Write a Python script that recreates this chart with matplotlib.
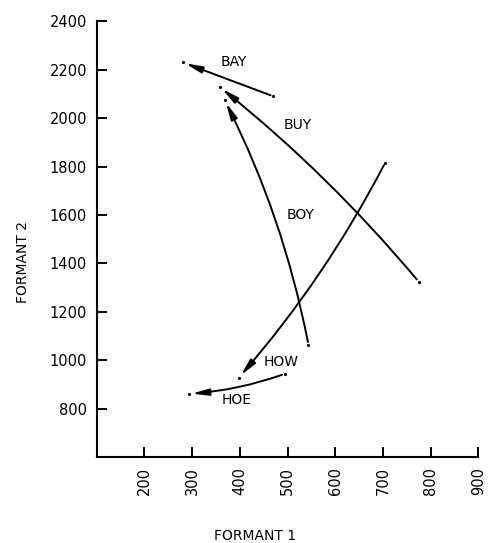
import matplotlib
matplotlib.use("Agg")
import matplotlib.pyplot as plt

# vowel glide trajectories, formant 1 vs formant 2 (Hz)
words = ["BAY", "BUY", "BOY", "HOW", "HOE"]
f1_start = [470, 775, 544, 705, 494]
f2_start = [2090, 1325, 1064, 1816, 944]
f1_end = [280, 358, 368, 398, 293]
f2_end = [2230, 2128, 2074, 929, 862]
label_f1 = [387, 521, 528, 486, 394]
label_f2 = [2231, 1971, 1600, 991, 837]
curvature = [0.0, 0.05, 0.07, -0.06, -0.07]

x_ticks = [200, 300, 400, 500, 600, 700, 800, 900]
y_ticks = [800, 1000, 1200, 1400, 1600, 1800, 2000, 2200, 2400]

plt.rcParams['font.family'] = ['DejaVu Sans']

fig = plt.figure(figsize=(4.94, 5.43), dpi=100)
ax = fig.add_axes([0.196, 0.158, 0.772, 0.803])

for i in range(len(words)):
    ax.annotate("", xy=(f1_end[i], f2_end[i]), xytext=(f1_start[i], f2_start[i]),
                arrowprops=dict(arrowstyle="-|>,head_length=1.0,head_width=0.2",
                                connectionstyle=f"arc3,rad={curvature[i]}",
                                color="black", lw=1.4, mutation_scale=10,
                                shrinkA=2, shrinkB=2))
    ax.plot([f1_start[i], f1_end[i]], [f2_start[i], f2_end[i]], ".", color="black",
            markersize=2.5, linestyle="none")
    ax.text(label_f1[i], label_f2[i], words[i], ha="center", va="center", fontsize=10)

ax.set_xlim(100, 900)
ax.set_ylim(600, 2400)
ax.set_xticks(x_ticks)
ax.set_yticks(y_ticks)
ax.set_xticklabels([str(v) for v in x_ticks], rotation=90, fontsize=10.5)
ax.set_yticklabels([str(v) for v in y_ticks], fontsize=10.5)
ax.tick_params(direction="in", length=7, width=1.4, pad=7)

for side in ["top", "right"]:
    ax.spines[side].set_visible(False)
for side in ["left", "bottom"]:
    ax.spines[side].set_linewidth(1.5)

ax.set_xlabel("FORMANT 1", fontsize=10)
ax.set_ylabel("FORMANT 2", fontsize=10)
ax.xaxis.set_label_coords(0.415, -0.165)
ax.yaxis.set_label_coords(-0.175, 0.447)

fig.savefig("out.png", dpi=100)
